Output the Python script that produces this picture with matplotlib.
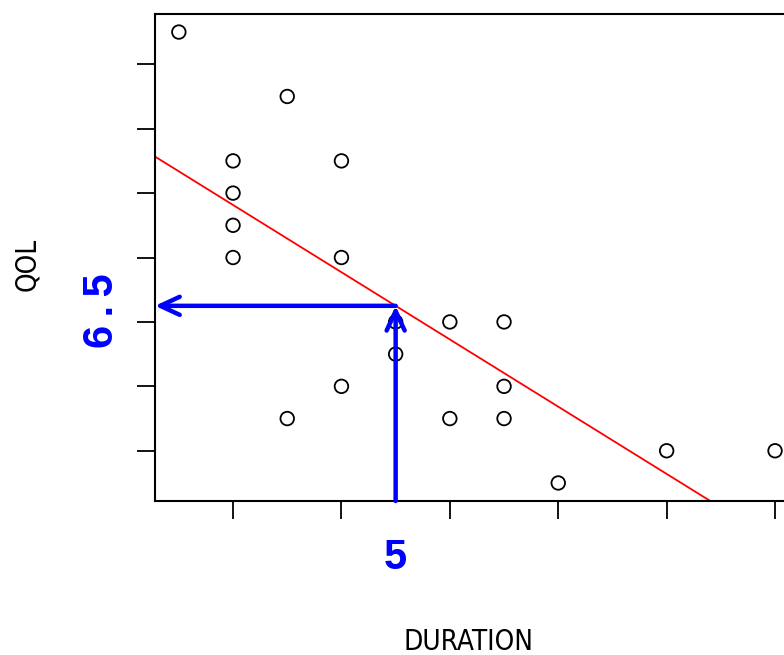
"""
Scatter of QOL against DURATION with the least-squares line and
arrows reading off the fitted value at DURATION = 5.
"""
import numpy as np
import matplotlib
matplotlib.use('Agg')
import matplotlib.pyplot as plt
import matplotlib.transforms as mtransforms

# --- data ---
duration = [1, 3, 2, 4, 2, 2, 2, 4, 5, 6, 7, 5, 4, 7, 3, 6, 7, 8, 10, 12]
qol = [15, 13, 11, 11, 10, 9, 8, 8, 6, 6, 6, 5, 4, 4, 3, 3, 3, 1, 2, 2]
x_ticks = [2, 4, 6, 8, 10, 12]
y_ticks = [2, 4, 6, 8, 10, 12, 14]
x_label = 'DURATION'
y_label = 'QOL'
x_read = 5

blue_font = ['Liberation Sans', 'DejaVu Sans']

x = np.array(duration, dtype=float)
y = np.array(qol, dtype=float)
slope, intercept = np.polyfit(x, y, 1)
y_read = intercept + slope * x_read

# R style 4% padding on the data range
def padded(v):
    lo, hi = v.min(), v.max()
    pad = 0.04 * (hi - lo)
    return lo - pad, hi + pad

xlim = padded(x)
ylim = padded(y)

fig = plt.figure(figsize=(7.84, 6.55), dpi=100)
# the right side of the plot box runs past the edge of the picture
ax = fig.add_axes([0.1977, 0.2351, 0.8213, 0.7435])

ax.scatter(x, y, s=95, facecolors='none', edgecolors='black', linewidths=1.3, zorder=3)
ax.axline((0, intercept), slope=slope, color='red', lw=1.3, zorder=2)

ax.set_xlim(*xlim)
ax.set_ylim(*ylim)
ax.set_xticks(x_ticks)
ax.set_yticks(y_ticks)
ax.set_xticklabels([])
ax.set_yticklabels([])
ax.tick_params(length=13, width=1.3, color='black')
for sp in ax.spines.values():
    sp.set_linewidth(1.5)

# arrows: up from the axis to the line, then left to the y axis
arrow_kw = dict(arrowstyle='->,head_length=1.4,head_width=0.65', color='blue',
                lw=3.2, shrinkA=0, shrinkB=0, mutation_scale=10)
ax.annotate('', xy=(x_read, y_read), xytext=(x_read, ylim[0]),
            arrowprops=arrow_kw, annotation_clip=False, zorder=4)
ax.annotate('', xy=(xlim[0], y_read), xytext=(x_read, y_read),
            arrowprops=arrow_kw, annotation_clip=False, zorder=4)

bx = mtransforms.blended_transform_factory(ax.transData, fig.transFigure)
by = mtransforms.blended_transform_factory(fig.transFigure, ax.transData)
ax.text(x_read, 1 - 558 / 655, f'{x_read:g}', transform=bx, color='blue',
        fontsize=30, fontweight='bold', family=blue_font, ha='center', va='center')
ax.text(102 / 784, y_read - 0.15, f'{y_read:.1f}'.replace('.', '\u2009.\u2009'),
        transform=by, color='blue', fontsize=30, fontweight='bold', family=blue_font,
        rotation=90, ha='center', va='center')

fig.text(469 / 784, 1 - 642 / 655, x_label, family='DejaVu Sans', fontstretch='condensed',
         fontsize=20, ha='center', va='center')
fig.text(27 / 784, 1 - 264 / 655, y_label, family='DejaVu Sans', fontstretch='condensed',
         fontsize=20, rotation=90, ha='center', va='center')

fig.savefig('out.png', dpi=100)
